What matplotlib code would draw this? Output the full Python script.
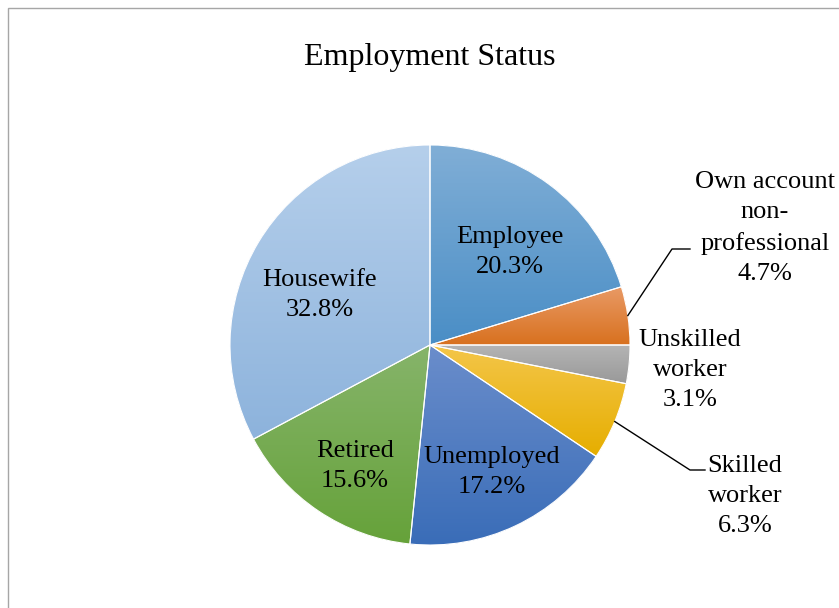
import numpy as np
import matplotlib
matplotlib.use("Agg")
import matplotlib.pyplot as plt
from matplotlib.colors import to_rgb
from matplotlib.patches import Rectangle

plt.rcParams['font.family'] = ['Liberation Serif', 'DejaVu Serif']

categories = ["Employee", "Own account\nnon-\nprofessional", "Unskilled\nworker",
              "Skilled\nworker", "Unemployed", "Retired", "Housewife"]
shares = [20.3, 4.7, 3.1, 6.3, 17.2, 15.6, 32.8]
# (top colour, bottom colour) of each slice's gradient
top_cols = ["#80AED6", "#E99A66", "#B4B4B4", "#F4C64A", "#6A8DCB", "#86B46A", "#B5CFEB"]
bot_cols = ["#4A8EC6", "#D8711F", "#999999", "#E6AE00", "#3A6DB8", "#66A23A", "#8DB3DC"]

W, H = 839, 608
cx, cy, r = 430, H - 345, 200

fig = plt.figure(figsize=(W / 100, H / 100), dpi=100)
ax = fig.add_axes([0, 0, 1, 1])

wedges, _ = ax.pie(shares, startangle=90, counterclock=False, center=(cx, cy),
                   radius=r, colors=bot_cols, wedgeprops=dict(linewidth=0))

for w, c1, c2 in zip(wedges, top_cols, bot_cols):
    bb = w.get_path().get_extents()
    a, b = np.array(to_rgb(c2)), np.array(to_rgb(c1))
    t = np.linspace(0, 1, 64)[:, None, None]
    grad = a + (b - a) * t
    im = ax.imshow(grad, extent=[bb.x0, bb.x1, bb.y0, bb.y1], origin='lower',
                   aspect='auto', interpolation='bilinear', zorder=2)
    im.set_clip_path(w)

ax.pie(shares, startangle=90, counterclock=False, center=(cx, cy), radius=r,
       wedgeprops=dict(facecolor='none', edgecolor='white', linewidth=0.8, zorder=3))

# label positions (pixels from top-left)
label_pos = [(510, 252), (765, 228), (690, 370), (745, 496), (492, 472), (355, 466), (320, 295)]
for name, val, (x, y) in zip(categories, shares, label_pos):
    ax.text(x, H - y, f"{name}\n{val:.1f}%", ha='center', va='center',
            fontsize=19, linespacing=1.5, color='black', zorder=5)

# leader lines from slice mid-points
cum = np.cumsum([0] + shares)
def mid_point(i):
    ang = np.deg2rad(90 - 3.6 * (cum[i] + shares[i] / 2))
    return cx + r * np.cos(ang), cy + r * np.sin(ang)

x0, y0 = mid_point(1)
ax.plot([x0, 672, 690], [y0, H - 249, H - 249], color='black', lw=1, zorder=4)
x0, y0 = mid_point(3)
ax.plot([x0, 690, 705], [y0, H - 470, H - 470], color='black', lw=1, zorder=4)

ax.text(430, H - 57, "Employment Status", ha='center', va='center', fontsize=23)

ax.add_patch(Rectangle((8, -20), W + 20, H - 8 + 20, facecolor='none',
                       edgecolor='#A6A6A6', lw=1, clip_on=False, zorder=0))

ax.set_xlim(0, W)
ax.set_ylim(0, H)
ax.set_aspect('auto')
ax.axis('off')

fig.savefig("out.png", dpi=100)
